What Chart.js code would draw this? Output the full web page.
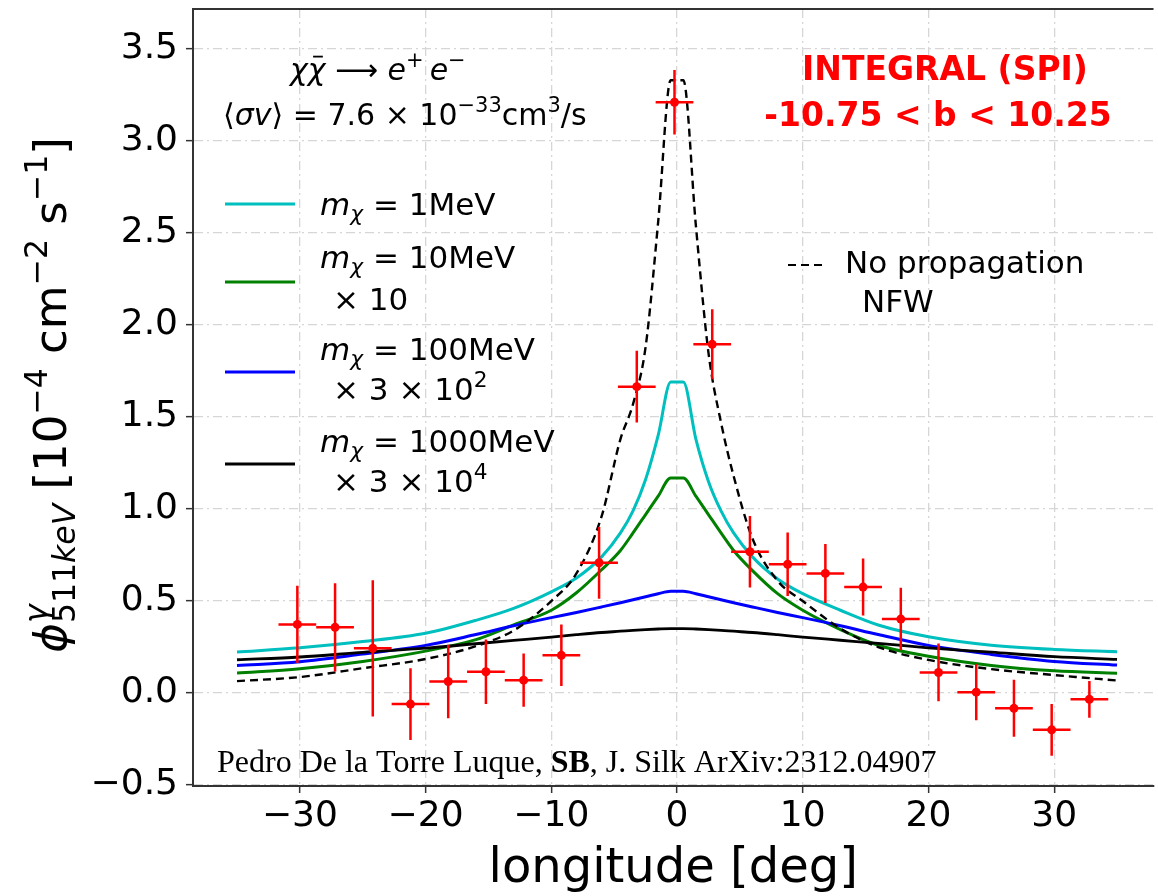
<!DOCTYPE html>
<html>
<head>
<meta charset="utf-8">
<script src="https://cdn.jsdelivr.net/npm/chart.js@4.4.0/dist/chart.umd.min.js"></script>
<style>
  html, body { margin: 0; padding: 0; background: #fff; }
</style>
</head>
<body>
<canvas id="fluxChart" width="1158" height="896"></canvas>
<script>
// longitude grid of the model curves [deg]
const lonModel = [-35, -30, -25, -20, -16, -13, -10, -8, -6, -4.5, -3.5, -2.5, -1.5, -0.5,
                  0.5, 1.5, 2.5, 3.5, 4.5, 6, 8, 10, 13, 16, 20, 25, 30, 35];
// 511 keV flux of each model (already rescaled as in the legend)
const flux1MeV    = [0.223, 0.246, 0.28, 0.325, 0.395, 0.46, 0.55, 0.625, 0.74, 0.87, 0.99, 1.16, 1.40, 1.69,
                     1.69, 1.38, 1.15, 0.99, 0.87, 0.74, 0.62, 0.54, 0.45, 0.37, 0.306, 0.26, 0.237, 0.225];
const flux10MeV   = [0.109, 0.132, 0.172, 0.228, 0.29, 0.37, 0.45, 0.545, 0.67, 0.775, 0.87, 0.97, 1.07, 1.168,
                     1.168, 1.07, 0.97, 0.87, 0.775, 0.665, 0.54, 0.45, 0.345, 0.26, 0.2, 0.15, 0.121, 0.108];
const flux100MeV  = [0.15, 0.17, 0.212, 0.259, 0.318, 0.366, 0.41, 0.438, 0.468, 0.491, 0.507, 0.523, 0.54, 0.553,
                     0.553, 0.54, 0.523, 0.507, 0.491, 0.468, 0.438, 0.41, 0.366, 0.318, 0.259, 0.21, 0.172, 0.152];
const flux1000MeV = [0.181, 0.196, 0.221, 0.244, 0.268, 0.286, 0.304, 0.317, 0.329, 0.336, 0.341, 0.345, 0.348, 0.35,
                     0.35, 0.348, 0.345, 0.341, 0.336, 0.329, 0.317, 0.304, 0.287, 0.27, 0.246, 0.222, 0.198, 0.183];
const fluxNoProp  = [0.065, 0.087, 0.135, 0.185, 0.255, 0.34, 0.50, 0.65, 0.96, 1.38, 1.57, 1.88, 2.56, 3.33,
                     3.33, 2.54, 1.85, 1.47, 1.18, 0.84, 0.61, 0.50, 0.35, 0.25, 0.18, 0.13, 0.098, 0.068];

// INTEGRAL (SPI) data points
const lonData  = [-30.2, -27.2, -24.2, -21.2, -18.2, -15.2, -12.2, -9.2, -6.2, -3.2, -0.2,
                  2.8, 5.8, 8.8, 11.8, 14.8, 17.8, 20.8, 23.8, 26.8, 29.8, 32.8];
const lonHalfBin = 1.5;
const fluxData = [0.373, 0.357, 0.243, -0.06, 0.063, 0.116, 0.07, 0.205, 0.708, 1.665, 3.21,
                  1.895, 0.768, 0.70, 0.65, 0.576, 0.402, 0.112, 0.005, -0.083, -0.2, -0.034];
const fluxErr  = [0.21, 0.24, 0.37, 0.195, 0.2, 0.175, 0.145, 0.167, 0.195, 0.195, 0.175,
                  0.19, 0.194, 0.172, 0.16, 0.155, 0.17, 0.157, 0.153, 0.155, 0.14, 0.1];

const xTicks = [-30, -20, -10, 0, 10, 20, 30];
const yTicks = [-0.5, 0, 0.5, 1, 1.5, 2, 2.5, 3, 3.5];

const FAM = 'DejaVu Sans';
Chart.defaults.font.family = FAM;
Chart.defaults.color = '#000';

function curve(vals, color, width, dash) {
  return {
    data: lonModel.map((x, i) => ({ x: x, y: vals[i] })),
    borderColor: color,
    borderWidth: width,
    borderDash: dash || [],
    pointRadius: 0,
    fill: false,
    cubicInterpolationMode: 'monotone'
  };
}

// draws text made of pieces: [text, style]  i=italic b=bold ^=sup _=sub o=overline !=no advance
function rich(ctx, parts, x, y, size, fam, color, draw) {
  let cx = x;
  for (const [txt, st] of parts) {
    const small = st.includes('^') || st.includes('_');
    const fs = small ? size * 0.7 : size;
    const dy = st.includes('^') ? -0.42 * size : (st.includes('_') ? 0.2 * size : 0);
    ctx.font = (st.includes('i') ? 'italic ' : '') + (st.includes('b') ? 'bold ' : '') + fs + 'px "' + fam + '"';
    const w = ctx.measureText(txt).width;
    if (draw) {
      ctx.fillStyle = color;
      ctx.fillText(txt, cx, y + dy);
      if (st.includes('o')) {
        ctx.strokeStyle = color;
        ctx.lineWidth = size * 0.06;
        ctx.beginPath();
        ctx.moveTo(cx + w * 0.3, y - size * 0.78);
        ctx.lineTo(cx + w * 0.85, y - size * 0.78);
        ctx.stroke();
      }
    }
    if (!st.includes('!')) cx += w;
  }
  return cx - x;
}

const errorBars = {
  id: 'errorBars',
  afterDatasetsDraw(chart) {
    const { ctx, scales: { x, y } } = chart;
    ctx.save();
    ctx.strokeStyle = '#ff0000';
    ctx.lineWidth = 2.5;
    lonData.forEach((lon, i) => {
      const px = x.getPixelForValue(lon);
      const py = y.getPixelForValue(fluxData[i]);
      ctx.beginPath();
      ctx.moveTo(x.getPixelForValue(lon - lonHalfBin), py);
      ctx.lineTo(x.getPixelForValue(lon + lonHalfBin), py);
      ctx.moveTo(px, y.getPixelForValue(fluxData[i] - fluxErr[i]));
      ctx.lineTo(px, y.getPixelForValue(fluxData[i] + fluxErr[i]));
      ctx.stroke();
    });
    ctx.restore();
  }
};

const annotations = {
  id: 'annotations',
  afterDraw(chart) {
    const { ctx, chartArea: a } = chart;
    ctx.save();
    // top frame line
    ctx.strokeStyle = '#333';
    ctx.lineWidth = 2;
    ctx.beginPath();
    ctx.moveTo(a.left, a.top);
    ctx.lineTo(a.right, a.top);
    ctx.stroke();

    ctx.textBaseline = 'alphabetic';
    ctx.textAlign = 'left';

    // process
    rich(ctx, [['χ', 'i'], ['χ', 'io'], [' ⟶ ', ''], ['e', 'i'], ['+', '^'], ['\u2009e', 'i'], ['−', '^']],
      290, 80, 30, FAM, '#000', true);
    rich(ctx, [['⟨', ''], ['σv', 'i'], ['⟩ = 7.6 × 10', ''], ['−33', '^'], ['cm', ''], ['3', '^'], ['/s', '']],
      223, 125, 30, FAM, '#000', true);

    // legend
    const leg = [
      { color: '#00bfbf', ly: 204, l1: 215, l2: null, tail: null },
      { color: '#008000', ly: 282, l1: 268, l2: 310, tail: [['× 10', '']] },
      { color: '#0000ff', ly: 372, l1: 360, l2: 400, tail: [['× 3 × 10', ''], ['2', '^']] },
      { color: '#000000', ly: 464, l1: 452, l2: 492, tail: [['× 3 × 10', ''], ['4', '^']] }
    ];
    const masses = ['1', '10', '100', '1000'];
    leg.forEach((e, i) => {
      ctx.strokeStyle = e.color;
      ctx.lineWidth = 3;
      ctx.setLineDash([]);
      ctx.beginPath();
      ctx.moveTo(225, e.ly);
      ctx.lineTo(295, e.ly);
      ctx.stroke();
      rich(ctx, [['m', 'i'], ['χ', 'i_'], [' = ' + masses[i] + 'MeV', '']], 320, e.l1, 31, FAM, '#000', true);
      if (e.tail) rich(ctx, e.tail, 333, e.l2, 31, FAM, '#000', true);
    });

    // no propagation entry
    ctx.strokeStyle = '#000';
    ctx.lineWidth = 2.2;
    ctx.setLineDash([8, 5]);
    ctx.beginPath();
    ctx.moveTo(788, 265);
    ctx.lineTo(822, 265);
    ctx.stroke();
    ctx.setLineDash([]);
    ctx.fillStyle = '#000';
    ctx.font = '31px "' + FAM + '"';
    ctx.fillText('No propagation', 845, 273);
    ctx.fillText('NFW', 862, 312);

    // INTEGRAL label
    ctx.fillStyle = '#ff0000';
    ctx.font = 'bold 33px "' + FAM + '"';
    ctx.textAlign = 'center';
    ctx.fillText('INTEGRAL (SPI)', 945, 80);
    ctx.fillText('-10.75 < b < 10.25', 938, 126);
    ctx.textAlign = 'left';

    // reference
    rich(ctx, [['Pedro De la Torre Luque, ', ''], ['SB', 'b'], [', J. Silk ArXiv:2312.04907', '']],
      217, 772, 32, 'Liberation Serif', '#000', true);

    // y axis title
    const yTitle = [['ϕ', 'i'], ['γ', 'i^!'], ['511', '_'], ['keV', 'i_'], [' [10', ''], ['−4', '^'],
                    [' cm', ''], ['−2', '^'], [' s', ''], ['−1', '^'], [']', '']];
    const ts = 45;
    const w = rich(ctx, yTitle, 0, 0, ts, FAM, '#000', false);
    ctx.translate(66, 395);
    ctx.rotate(-Math.PI / 2);
    rich(ctx, yTitle, -w / 2, 0, ts, FAM, '#000', true);
    ctx.restore();
  }
};

const fmtTick = (v, digits) => v.toFixed(digits).replace('-', '−');

new Chart(document.getElementById('fluxChart'), {
  type: 'line',
  data: {
    datasets: [
      {
        label: 'INTEGRAL (SPI)',
        data: lonData.map((x, i) => ({ x: x, y: fluxData[i] })),
        showLine: false,
        pointRadius: 4.5,
        pointBackgroundColor: '#ff0000',
        pointBorderColor: '#ff0000',
        pointBorderWidth: 0
      },
      curve(fluxNoProp, '#000000', 2.4, [8, 5]),
      curve(flux1000MeV, '#000000', 2.8),
      curve(flux100MeV, '#0000ff', 3),
      curve(flux10MeV, '#008000', 3),
      curve(flux1MeV, '#00bfbf', 3)
    ]
  },
  options: {
    responsive: false,
    animation: false,
    devicePixelRatio: 1,
    layout: { padding: { top: 9, left: 0, right: 0, bottom: 0 } },
    plugins: { legend: { display: false }, tooltip: { enabled: false } },
    scales: {
      x: {
        type: 'linear',
        min: -38.5,
        max: 37.9,
        afterBuildTicks: s => { s.ticks = xTicks.map(v => ({ value: v })); },
        afterFit: s => { s.height = 110; s.paddingLeft = 0; s.paddingRight = 0; },
        ticks: { font: { size: 36 }, color: '#000', padding: 2, maxRotation: 0, autoSkip: false,
                 callback: v => fmtTick(v, 0) },
        grid: { color: '#d6d6d6', lineWidth: 1.3, tickLength: 7, tickColor: '#333', tickWidth: 1.5, tickBorderDash: [] },
        border: { color: '#333', width: 2, dash: [9, 4, 2, 4] },
        title: { display: true, text: 'longitude [deg]', color: '#000',
                 font: { size: 48, lineHeight: 1 }, padding: { top: 0, bottom: 2 } }
      },
      y: {
        min: -0.505,
        max: 3.717,
        afterBuildTicks: s => { s.ticks = yTicks.map(v => ({ value: v })); },
        afterFit: s => { s.width = 193; s.paddingTop = 0; s.paddingBottom = 0; },
        ticks: { font: { size: 36 }, color: '#000', padding: 8, autoSkip: false,
                 callback: v => fmtTick(v, 1) },
        grid: { color: '#d6d6d6', lineWidth: 1.3, tickLength: 7, tickColor: '#333', tickWidth: 1.5, tickBorderDash: [] },
        border: { color: '#333', width: 2, dash: [9, 4, 2, 4] }
      }
    }
  },
  plugins: [errorBars, annotations]
});
</script>
</body>
</html>
